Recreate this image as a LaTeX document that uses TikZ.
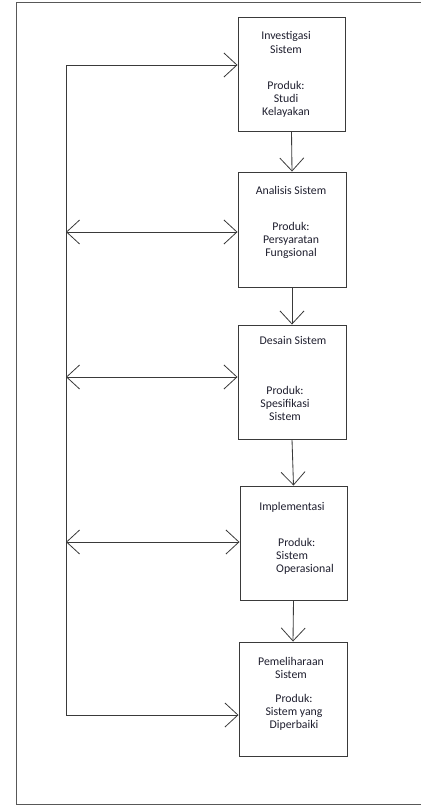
\documentclass[tikz,border=0pt]{standalone}
\usepackage{fontspec}
\setmainfont{Carlito}
\usetikzlibrary{arrows.meta}
\definecolor{linec}{HTML}{3A3A3A}
\definecolor{txtc}{HTML}{1E1E2E}
\begin{document}
\begin{tikzpicture}[x=1pt,y=-1pt,
  box/.style={draw=linec,line width=0.95pt,rectangle,inner sep=0pt,minimum width=108pt,minimum height=114pt},
  txt/.style={text=txtc,font=\fontsize{11.8}{13}\selectfont,align=center,inner sep=0pt},
  conn/.style={draw=linec,line width=0.85pt,arrows={-Straight Barb[length=13pt,width=24pt,line width=0.8pt]}},
  dconn/.style={draw=linec,line width=0.85pt,arrows={Straight Barb[length=13pt,width=24pt,line width=0.8pt]-Straight Barb[length=13pt,width=24pt,line width=0.8pt]}},
  frame/.style={draw=linec!85,line width=1pt}]
\useasboundingbox (0,0) rectangle (420,805);
\draw[frame] (421,3) -- (16,3) -- (16,804) -- (421,804);
% boxes
\node[box,minimum width=107pt] (b1) at (291.5,74) {};
\node[box,minimum height=115pt] (b2) at (292,229.5) {};
\node[box] (b3) at (292,382) {};
\node[box,minimum width=107pt] (b4) at (293.5,543) {};
\node[box] (b5) at (293,699) {};
% texts
\node[txt] (t1) at (286,42) {Investigasi\\[1pt]Sistem};
\node[txt] (p1) at (286,99) {Produk:\\Studi\\Kelayakan};
\node[txt] (t2) at (291,190) {Analisis Sistem};
\node[txt] (p2) at (291,240) {Produk:\\Persyaratan\\Fungsional};
\node[txt] (t3) at (293,340) {Desain Sistem};
\node[txt] (p3) at (285,403) {Produk:\\Spesifikasi\\Sistem};
\node[txt] (t4) at (292,507) {Implementasi};
\node[txt,align=left,anchor=west] (p4) at (276,556) {\hspace{2pt}Produk:\\Sistem\\Operasional};
\node[txt] (t5) at (291,668) {Pemeliharaan\\Sistem};
\node[txt] (p5) at (294,712) {Produk:\\Sistem yang\\Diperbaiki};
% left feedback coordinates
\coordinate (l1) at (66,65);
\coordinate (l2) at (66,232);
\coordinate (l3) at (66,377);
\coordinate (l4) at (66,542);
\coordinate (l5) at (66,715);
% vertical flow
\draw[conn] (b1.south) -- (b2.north);
\draw[conn] (b2.south) -- (b3.north);
\draw[conn] (b3.south) -- (b4.north);
\draw[conn] (b4.south) -- (b5.north);
% feedback
\draw[conn] (l5) -- (l1) -- (l1 -| b1.west);
\draw[conn] (l5) -- (l5 -| b5.west);
\draw[dconn] (l2) -- (l2 -| b2.west);
\draw[dconn] (l3) -- (l3 -| b3.west);
\draw[dconn] (l4) -- (l4 -| b4.west);
\end{tikzpicture}
\end{document}
